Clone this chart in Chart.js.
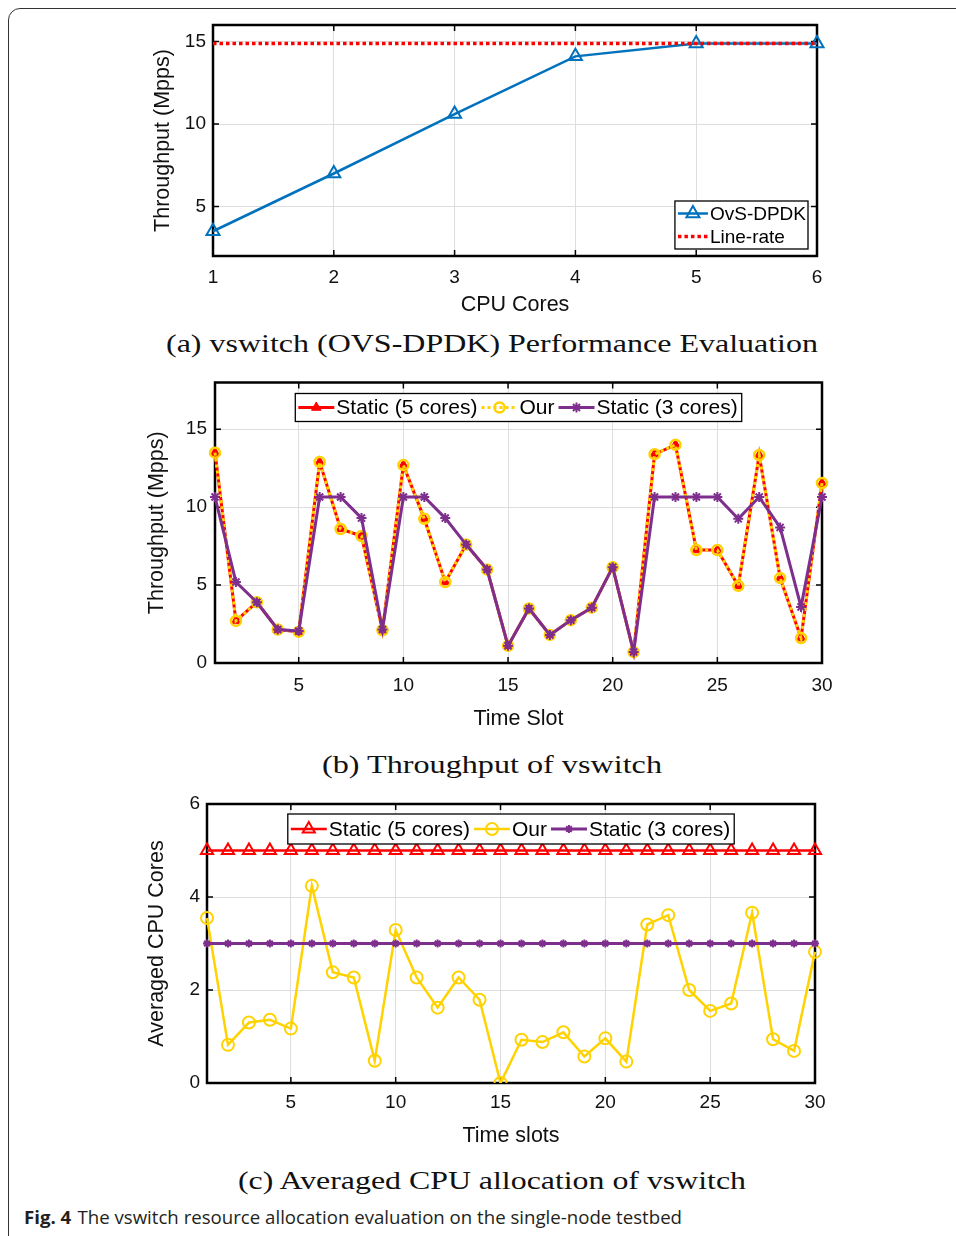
<!DOCTYPE html>
<html><head><meta charset="utf-8">
<script src="https://cdn.jsdelivr.net/npm/chart.js@4.4.1/dist/chart.umd.min.js"></script>
<style>
html,body{margin:0;padding:0;width:956px;height:1236px;overflow:hidden;background:#fff;}
.frame{position:absolute;left:8px;top:8px;width:1100px;height:1400px;border:1px solid #333;border-radius:12px;}
canvas{position:absolute;}
.cap{position:absolute;font-family:"Liberation Serif","DejaVu Serif",serif;font-size:25px;line-height:30px;color:#111;white-space:nowrap;transform-origin:0 50%;}
.fig{position:absolute;left:24px;top:1206px;font-family:"Open Sans",sans-serif;font-size:18px;line-height:22px;color:#231f20;white-space:nowrap;transform-origin:0 50%;}
.fig b{font-weight:700;margin-right:6px;}
</style></head><body>
<div class="frame"></div>
<canvas id="ca" width="700" height="305" style="left:140px;top:15px"></canvas>
<div class="cap" id="capA" data-l="166" data-w="652" style="top:329px">(a) vswitch (OVS-DPDK) Performance Evaluation</div>
<canvas id="cb" width="700" height="360" style="left:140px;top:375px"></canvas>
<div class="cap" id="capB" data-l="322" data-w="340" style="top:750px">(b) Throughput of vswitch</div>
<canvas id="cc" width="700" height="360" style="left:130px;top:795px"></canvas>
<div class="cap" id="capC" data-l="238" data-w="508" style="top:1166px">(c) Averaged CPU allocation of vswitch</div>
<div class="fig" id="fig" data-l="24" data-w="658"><b>Fig. 4</b>The vswitch resource allocation evaluation on the single-node testbed</div>
<script>
// ---------------- DATA ----------------
// (a) vswitch performance
const coresX = [1, 2, 3, 4, 5, 6];
const ovsThroughput = [3.5, 7.0, 10.6, 14.1, 14.88, 14.88];
const lineRate = [14.88, 14.88, 14.88, 14.88, 14.88, 14.88];
const aXTicks = [1, 2, 3, 4, 5, 6];
const aYTicks = [5, 10, 15];

// (b) throughput per time slot
const slots = [1,2,3,4,5,6,7,8,9,10,11,12,13,14,15,16,17,18,19,20,21,22,23,24,25,26,27,28,29,30];
const static5Thr = [13.5,2.7,3.9,2.15,2.0,12.9,8.6,8.15,2.1,12.7,9.25,5.2,7.6,6.0,1.1,3.5,1.8,2.75,3.55,6.15,0.7,13.4,14.0,7.25,7.25,4.95,13.35,5.45,1.6,11.55];
const ourThr     = [13.5,2.7,3.9,2.15,2.0,12.9,8.6,8.15,2.1,12.7,9.25,5.2,7.6,6.0,1.1,3.5,1.8,2.75,3.55,6.15,0.7,13.4,14.0,7.25,7.25,4.95,13.35,5.45,1.6,11.55];
const static3Thr = [10.65,5.2,3.9,2.15,2.05,10.65,10.65,9.3,2.15,10.65,10.65,9.3,7.6,6.0,1.1,3.5,1.8,2.75,3.55,6.15,0.7,10.65,10.65,10.65,10.65,9.25,10.65,8.7,3.6,10.65];
const bXTicks = [5, 10, 15, 20, 25, 30];
const bYTicks = [0, 5, 10, 15];

// (c) averaged CPU cores per time slot
const static5Cpu = [5,5,5,5,5,5,5,5,5,5,5,5,5,5,5,5,5,5,5,5,5,5,5,5,5,5,5,5,5,5];
const ourCpu     = [3.55,0.82,1.3,1.36,1.17,4.24,2.38,2.27,0.48,3.29,2.27,1.62,2.27,1.79,0.0,0.93,0.88,1.09,0.57,0.96,0.46,3.41,3.61,2.0,1.55,1.71,3.66,0.94,0.69,2.82];
const static3Cpu = [3,3,3,3,3,3,3,3,3,3,3,3,3,3,3,3,3,3,3,3,3,3,3,3,3,3,3,3,3,3];
const cXTicks = [5, 10, 15, 20, 25, 30];
const cYTicks = [0, 2, 4, 6];

// ---------------- STYLE ----------------
const FONT = '"Liberation Sans", Arial, Helvetica, sans-serif';
const BLUE = '#0072BD', RED = '#FF0000', YELLOW = '#FFD200', PURPLE = '#7E2F8E';
const GRID = '#dedede';
const TICK_SIZE = 19, TITLE_SIZE = 21.5;

const pts = (xs, ys) => xs.map((x, i) => ({x: x, y: ys[i]}));

function xScale(min, max, ticks, title, o) {
  return {
    type: 'linear', min: min, max: max, position: 'bottom',
    afterBuildTicks: s => { s.ticks = ticks.map(v => ({value: v})); },
    afterFit: s => { s.height = o.h; s.paddingLeft = 0; s.paddingRight = 0; },
    grid: {color: GRID, lineWidth: 1, drawTicks: false},
    border: {display: false},
    ticks: {padding: o.tp, color: '#111', font: {family: FONT, size: TICK_SIZE}, maxRotation: 0, autoSkip: false},
    title: {display: true, text: title, color: '#111', font: {family: FONT, size: TITLE_SIZE}, padding: {top: 0, bottom: o.titlePad}}
  };
}
function yScale(min, max, ticks, title, o) {
  return {
    type: 'linear', min: min, max: max, position: 'left',
    afterBuildTicks: s => { s.ticks = ticks.map(v => ({value: v})); },
    afterFit: s => { s.width = o.w; s.paddingTop = 0; s.paddingBottom = 0; },
    grid: {color: GRID, lineWidth: 1, drawTicks: false},
    border: {display: false},
    ticks: {padding: o.tp, color: '#111', font: {family: FONT, size: TICK_SIZE}, autoSkip: false},
    title: {display: true, text: title, color: '#111', font: {family: FONT, size: TITLE_SIZE}, padding: {top: o.titlePad, bottom: 0}}
  };
}

// axes box with inward ticks (MATLAB style)
const boxPlugin = {
  id: 'matlabBox',
  beforeDatasetsDraw(chart) {
    const ctx = chart.ctx, a = chart.chartArea, x = chart.scales.x, y = chart.scales.y;
    const L = 6;
    ctx.save();
    ctx.strokeStyle = '#000';
    ctx.lineWidth = 1.5;
    ctx.beginPath();
    x.ticks.forEach(t => {
      const p = x.getPixelForValue(t.value);
      ctx.moveTo(p, a.bottom); ctx.lineTo(p, a.bottom - L);
      ctx.moveTo(p, a.top); ctx.lineTo(p, a.top + L);
    });
    y.ticks.forEach(t => {
      const p = y.getPixelForValue(t.value);
      ctx.moveTo(a.left, p); ctx.lineTo(a.left + L, p);
      ctx.moveTo(a.right, p); ctx.lineTo(a.right - L, p);
    });
    ctx.stroke();
    ctx.lineWidth = 2.5;
    ctx.strokeRect(a.left, a.top, a.right - a.left, a.bottom - a.top);
    ctx.restore();
  }
};

function drawMarker(ctx, style, r, x, y, fill, stroke, lw) {
  if (!style || r <= 0) return;
  ctx.save();
  ctx.fillStyle = fill; ctx.strokeStyle = stroke; ctx.lineWidth = lw; ctx.setLineDash([]);
  ctx.beginPath();
  if (style === 'triangle') {
    let rad = 0;
    ctx.moveTo(x + Math.sin(rad) * r, y - Math.cos(rad) * r);
    rad += 2 * Math.PI / 3;
    ctx.lineTo(x + Math.sin(rad) * r, y - Math.cos(rad) * r);
    rad += 2 * Math.PI / 3;
    ctx.lineTo(x + Math.sin(rad) * r, y - Math.cos(rad) * r);
    ctx.closePath();
    ctx.fill(); ctx.stroke();
  } else if (style === 'circle') {
    ctx.arc(x, y, r, 0, Math.PI * 2);
    ctx.fill(); ctx.stroke();
  } else if (style === 'star') {
    ctx.moveTo(x, y - r); ctx.lineTo(x, y + r);
    ctx.moveTo(x - r, y); ctx.lineTo(x + r, y);
    const d = r * Math.SQRT1_2;
    ctx.moveTo(x - d, y - d); ctx.lineTo(x + d, y + d);
    ctx.moveTo(x - d, y + d); ctx.lineTo(x + d, y - d);
    ctx.stroke();
  }
  ctx.restore();
}

// boxed legend drawn inside the axes
function legendPlugin(cfg) {
  return {
    id: 'boxLegend',
    afterDraw(chart) {
      const ctx = chart.ctx, a = chart.chartArea;
      const ds = chart.data.datasets;
      ctx.save();
      ctx.font = cfg.size + 'px ' + FONT;
      const widths = ds.map(d => ctx.measureText(d.label).width);
      let boxW, boxH;
      if (cfg.vertical) {
        boxW = cfg.padL + cfg.sample + cfg.gap + Math.max.apply(null, widths) + cfg.padR;
        boxH = cfg.rowH * ds.length + 2 * cfg.padV;
      } else {
        boxW = cfg.padL + widths.reduce((s, w) => s + cfg.sample + cfg.gap + w, 0) + cfg.itemGap * (ds.length - 1) + cfg.padR;
        boxH = cfg.rowH;
      }
      const bx = cfg.align === 'right' ? a.right - cfg.dx - boxW : (a.left + a.right) / 2 - boxW / 2;
      const by = cfg.valign === 'bottom' ? a.bottom - cfg.dy - boxH : a.top + cfg.dy;
      ctx.fillStyle = '#fff';
      ctx.fillRect(bx, by, boxW, boxH);
      ctx.strokeStyle = '#000'; ctx.lineWidth = 1.3;
      ctx.strokeRect(bx, by, boxW, boxH);
      let cx = bx + cfg.padL;
      ds.forEach((d, i) => {
        const cy = cfg.vertical ? by + cfg.padV + cfg.rowH * (i + 0.5) : by + boxH / 2;
        const sx = cfg.vertical ? bx + cfg.padL : cx;
        ctx.save();
        ctx.strokeStyle = d.borderColor; ctx.lineWidth = d.borderWidth;
        ctx.setLineDash(d.borderDash || []);
        ctx.beginPath(); ctx.moveTo(sx, cy); ctx.lineTo(sx + cfg.sample, cy); ctx.stroke();
        ctx.restore();
        if (d.legendMarker !== false)
          drawMarker(ctx, d.pointStyle, d.pointRadius, sx + cfg.sample / 2, cy, d.pointBackgroundColor, d.pointBorderColor, d.pointBorderWidth);
        ctx.fillStyle = '#000';
        ctx.textBaseline = 'middle'; ctx.textAlign = 'left';
        ctx.fillText(d.label, sx + cfg.sample + cfg.gap, cy + 1);
        if (!cfg.vertical) cx += cfg.sample + cfg.gap + widths[i] + cfg.itemGap;
      });
      ctx.restore();
    }
  };
}

const common = {
  responsive: false, animation: false, events: [],
  plugins: {legend: {display: false}, tooltip: {enabled: false}}
};

// ---------------- CHART (a) ----------------
new Chart(document.getElementById('ca'), {
  type: 'line',
  data: {datasets: [
    {label: 'OvS-DPDK', data: pts(coresX, ovsThroughput), order: 1, clip: false,
     borderColor: BLUE, borderWidth: 2.5, pointStyle: 'triangle', pointRadius: 7.5,
     pointBackgroundColor: 'rgba(0,0,0,0)', pointBorderColor: BLUE, pointBorderWidth: 2},
    {label: 'Line-rate', data: pts(coresX, lineRate), order: 0, clip: false,
     borderColor: RED, borderWidth: 3.5, borderDash: [3.5, 3], pointRadius: 0, legendMarker: false}
  ]},
  options: Object.assign({}, common, {
    layout: {padding: {top: 10, right: 23, left: 0, bottom: 0}},
    scales: {
      x: xScale(1, 6, aXTicks, 'CPU Cores', {h: 64, tp: 10, titlePad: 2}),
      y: yScale(2, 16, aYTicks, 'Throughput (Mpps)', {w: 73, tp: 7, titlePad: 10})
    }
  }),
  plugins: [boxPlugin, legendPlugin({vertical: true, size: 19, sample: 30, gap: 2, padL: 3, padR: 2, padV: 1, rowH: 23, align: 'right', valign: 'bottom', dx: 9, dy: 7})]
});

// ---------------- CHART (b) ----------------
new Chart(document.getElementById('cb'), {
  type: 'line',
  data: {datasets: [
    {label: 'Static (5 cores)', data: pts(slots, static5Thr), order: 2, clip: false,
     borderColor: RED, borderWidth: 3, pointStyle: 'triangle', pointRadius: 5.5,
     pointBackgroundColor: RED, pointBorderColor: RED, pointBorderWidth: 1},
    {label: 'Our', data: pts(slots, ourThr), order: 1, clip: false,
     borderColor: YELLOW, borderWidth: 3, borderDash: [3, 3], pointStyle: 'circle', pointRadius: 5,
     pointBackgroundColor: 'rgba(0,0,0,0)', pointBorderColor: YELLOW, pointBorderWidth: 2.5},
    {label: 'Static (3 cores)', data: pts(slots, static3Thr), order: 0, clip: false,
     borderColor: PURPLE, borderWidth: 3, pointStyle: 'star', pointRadius: 5,
     pointBackgroundColor: PURPLE, pointBorderColor: PURPLE, pointBorderWidth: 2}
  ]},
  options: Object.assign({}, common, {
    layout: {padding: {top: 6, right: 18, left: 0, bottom: 0}},
    scales: {
      x: xScale(1, 30, bXTicks, 'Time Slot', {h: 72, tp: 11, titlePad: 3}),
      y: yScale(0, 18, bYTicks, 'Throughput (Mpps)', {w: 75, tp: 8, titlePad: 4})
    }
  }),
  plugins: [boxPlugin, legendPlugin({vertical: false, size: 21, sample: 36, gap: 2, itemGap: 4, padL: 3, padR: 4, rowH: 28, align: 'center', valign: 'top', dx: 0, dy: 11})]
});

// ---------------- CHART (c) ----------------
new Chart(document.getElementById('cc'), {
  type: 'line',
  data: {datasets: [
    {label: 'Static (5 cores)', data: pts(slots, static5Cpu), order: 2, clip: false,
     borderColor: RED, borderWidth: 2.5, pointStyle: 'triangle', pointRadius: 7,
     pointBackgroundColor: 'rgba(0,0,0,0)', pointBorderColor: RED, pointBorderWidth: 2},
    {label: 'Our', data: pts(slots, ourCpu), order: 1, clip: {left: false, top: false, right: false, bottom: 0},
     borderColor: YELLOW, borderWidth: 2.5, pointStyle: 'circle', pointRadius: 6,
     pointBackgroundColor: 'rgba(0,0,0,0)', pointBorderColor: YELLOW, pointBorderWidth: 2},
    {label: 'Static (3 cores)', data: pts(slots, static3Cpu), order: 0, clip: false,
     borderColor: PURPLE, borderWidth: 3, pointStyle: 'star', pointRadius: 4,
     pointBackgroundColor: PURPLE, pointBorderColor: PURPLE, pointBorderWidth: 2}
  ]},
  options: Object.assign({}, common, {
    layout: {padding: {top: 8, right: 15, left: 0, bottom: 0}},
    scales: {
      x: xScale(1, 30, cXTicks, 'Time slots', {h: 72, tp: 8, titlePad: 6}),
      y: yScale(0, 6, cYTicks, 'Averaged CPU Cores', {w: 77, tp: 7, titlePad: 14})
    }
  }),
  plugins: [boxPlugin, legendPlugin({vertical: false, size: 21, sample: 36, gap: 2, itemGap: 4, padL: 3, padR: 4, rowH: 30, align: 'center', valign: 'top', dx: 0, dy: 10})]
});

// fit captions to their target widths
['capA', 'capB', 'capC', 'fig'].forEach(id => {
  const el = document.getElementById(id);
  const w = el.getBoundingClientRect().width;
  const target = +el.dataset.w;
  el.style.left = el.dataset.l + 'px';
  el.style.transform = 'scaleX(' + (target / w) + ')';
});
</script>
</body></html>
